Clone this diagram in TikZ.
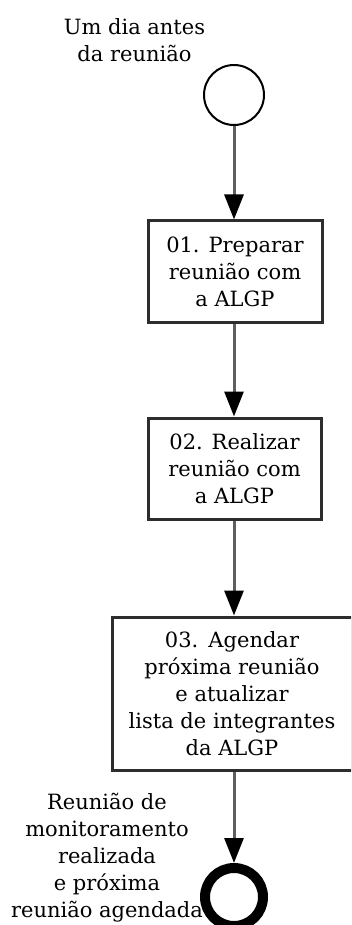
\documentclass[tikz,border=0pt]{standalone}
\usepackage{fontspec}
\setmainfont{DejaVu Serif}
\usetikzlibrary{arrows.meta}
\definecolor{linegray}{RGB}{95,95,95}
\definecolor{boxline}{RGB}{45,45,45}
\tikzset{
  lbl/.style={align=center, inner sep=0pt, font=\fontsize{21}{27}\selectfont},
  taskbox/.style={draw=boxline, line width=3pt, fill=white, align=center, inner sep=0pt,
    font=\fontsize{21}{27}\selectfont},
  startev/.style={circle, draw=black, line width=2pt, minimum size=60pt, inner sep=0pt},
  endev/.style={circle, draw=black, line width=10pt, minimum size=58pt, inner sep=0pt},
  flow/.style={draw=linegray, line width=3pt,
    -{Triangle[length=25pt,width=19pt,color=black,fill=black]}}
}
\begin{document}
\begin{tikzpicture}[x=1pt,y=-1pt]
\useasboundingbox (0,0) rectangle (351,925);
\clip (0,0) rectangle (351,925);
\node[startev] (start) at (234,95) {};
\node[lbl] (startlbl) at (134.5,40) {Um dia antes\\da reunião};
\node[taskbox, minimum width=174pt, minimum height=101pt] (b1) at (235,271.5)
  {01. Preparar\\reunião com\\a ALGP};
\node[taskbox, minimum width=173pt, minimum height=101pt] (b2) at (234.5,468.5)
  {02. Realizar\\reunião com\\a ALGP};
\node[taskbox, minimum width=240pt, minimum height=153pt] (b3) at (232,693.5)
  {03.\ \,Agendar\\próxima reunião\\e atualizar\\lista de integrantes\\da ALGP};
\node[endev] (end) at (234,897) {};
\node[lbl] (endlbl) at (107,857.5) {Reunião de\\monitoramento\\realizada\\e próxima\\reunião agendada};
\coordinate (c1) at (234,0);
\draw[flow] (start.south) -- (start.south |- b1.north);
\draw[flow] (b1.south -| c1) -- (b2.north -| c1);
\draw[flow] (b2.south -| c1) -- (b3.north -| c1);
\draw[flow] (b3.south -| c1) -- (end.north);
\end{tikzpicture}
\end{document}
